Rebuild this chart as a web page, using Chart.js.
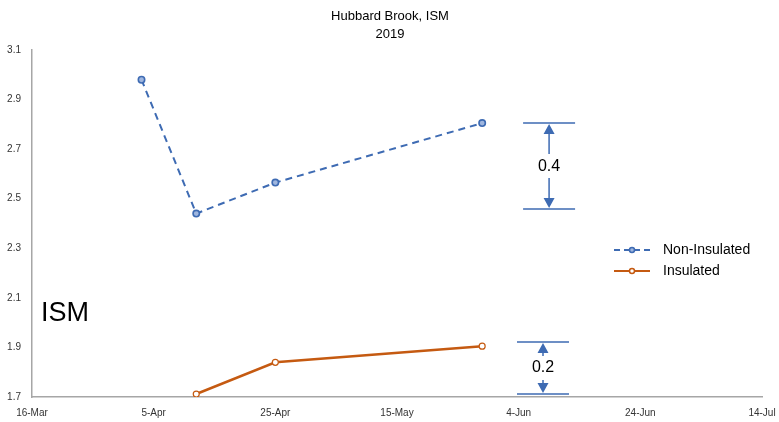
<!DOCTYPE html>
<html>
<head>
<meta charset="utf-8">
<script src="https://cdn.jsdelivr.net/npm/chart.js@4/dist/chart.umd.min.js"></script>
<style>
  html, body { margin: 0; padding: 0; background: #fff; }
  #wrap { width: 779px; height: 422px; }
</style>
</head>
<body>
<div id="wrap"><canvas id="ismChart" width="779" height="422"></canvas></div>
<script>
// sampling dates and values
const sampleDates = ['2019-04-03', '2019-04-12', '2019-04-25', '2019-05-29'];
const nonInsulated = [2.98, 2.44, 2.565, 2.805];
const insulated = [null, 1.712, 1.84, 1.905];

const seriesNames = ['Non-Insulated', 'Insulated'];
const yTicks = [1.7, 1.9, 2.1, 2.3, 2.5, 2.7, 2.9, 3.1];
const xStart = '2019-03-16';
const xEnd = '2019-07-14';

// difference brackets: [date, top value, bottom value, label]
const brackets = [
    ['2019-06-09', 2.805, 2.458, '0.4'],
    ['2019-06-08', 1.922, 1.712, '0.2']
];

const months = ['Jan','Feb','Mar','Apr','May','Jun','Jul','Aug','Sep','Oct','Nov','Dec'];
const BLUE = '#3e6bb3';
const ORANGE = '#C55A11';
const FONT = '"Liberation Sans", Arial, sans-serif';

function dayNum(s) {
    const p = s.split('-').map(Number);
    const p0 = xStart.split('-').map(Number);
    return (Date.UTC(p[0], p[1] - 1, p[2]) - Date.UTC(p0[0], p0[1] - 1, p0[2])) / 86400000;
}

function dayLabel(n) {
    const p0 = xStart.split('-').map(Number);
    const d = new Date(Date.UTC(p0[0], p0[1] - 1, p0[2]) + n * 86400000);
    return d.getUTCDate() + '-' + months[d.getUTCMonth()];
}

function toPoints(values) {
    return sampleDates.map((d, i) => ({ x: dayNum(d), y: values[i] }));
}

// title, ISM label, brackets and legend
const extras = {
    id: 'extras',
    afterDraw(chart) {
        const ctx = chart.ctx;
        const xs = chart.scales.x, ys = chart.scales.y;
        ctx.save();
        ctx.fillStyle = '#000';
        ctx.textAlign = 'center';
        ctx.textBaseline = 'middle';
        ctx.font = '13px ' + FONT;
        ctx.fillText('Hubbard Brook, ISM', 390, 16);
        ctx.fillText('2019', 390, 34);

        ctx.textAlign = 'left';
        ctx.font = '27px ' + FONT;
        ctx.fillText('ISM', 41, 314);

        brackets.forEach(b => {
            const cx = xs.getPixelForValue(dayNum(b[0]));
            const yt = ys.getPixelForValue(b[1]);
            const yb = ys.getPixelForValue(b[2]);
            const ym = (yt + yb) / 2;
            ctx.strokeStyle = BLUE;
            ctx.fillStyle = BLUE;
            ctx.lineWidth = 1.5;
            ctx.beginPath();
            ctx.moveTo(cx - 26, yt); ctx.lineTo(cx + 26, yt);
            ctx.moveTo(cx - 26, yb); ctx.lineTo(cx + 26, yb);
            ctx.moveTo(cx, yt + 9); ctx.lineTo(cx, ym - 12);
            ctx.moveTo(cx, ym + 12); ctx.lineTo(cx, yb - 9);
            ctx.stroke();
            ctx.beginPath();
            ctx.moveTo(cx, yt + 1); ctx.lineTo(cx - 5.5, yt + 11); ctx.lineTo(cx + 5.5, yt + 11); ctx.closePath();
            ctx.moveTo(cx, yb - 1); ctx.lineTo(cx - 5.5, yb - 11); ctx.lineTo(cx + 5.5, yb - 11); ctx.closePath();
            ctx.fill();
            ctx.fillStyle = '#000';
            ctx.textAlign = 'center';
            ctx.font = '16px ' + FONT;
            ctx.fillText(b[3], cx, ym);
        });

        // legend
        const items = [
            { y: 250, color: BLUE, dash: [6, 4], fill: '#9fb6df' },
            { y: 271, color: ORANGE, dash: [], fill: '#fff' }
        ];
        items.forEach((it, i) => {
            ctx.strokeStyle = it.color;
            ctx.lineWidth = 2;
            ctx.setLineDash(it.dash);
            ctx.beginPath();
            ctx.moveTo(614, it.y); ctx.lineTo(650, it.y);
            ctx.stroke();
            ctx.setLineDash([]);
            ctx.beginPath();
            ctx.arc(632, it.y, 2.5, 0, Math.PI * 2);
            ctx.fillStyle = it.fill;
            ctx.fill();
            ctx.lineWidth = 1.5;
            ctx.stroke();
            ctx.fillStyle = '#000';
            ctx.textAlign = 'left';
            ctx.font = '14px ' + FONT;
            ctx.fillText(seriesNames[i], 663, it.y);
        });
        ctx.restore();
    }
};

new Chart(document.getElementById('ismChart'), {
    type: 'line',
    data: {
        datasets: [{
            label: seriesNames[0],
            data: toPoints(nonInsulated),
            borderColor: BLUE,
            borderWidth: 2,
            borderDash: [7, 5],
            pointRadius: 3.2,
            pointBorderWidth: 1.6,
            pointBorderColor: BLUE,
            pointBackgroundColor: '#9fb6df',
            tension: 0
        }, {
            label: seriesNames[1],
            data: toPoints(insulated),
            borderColor: ORANGE,
            borderWidth: 2.5,
            pointRadius: 3,
            pointBorderWidth: 1.2,
            pointBorderColor: ORANGE,
            pointBackgroundColor: '#fff',
            tension: 0
        }]
    },
    options: {
        responsive: false,
        animation: false,
        layout: { autoPadding: false, padding: { top: 50, right: 17, left: 0, bottom: 0 } },
        plugins: {
            legend: { display: false },
            title: { display: false },
            tooltip: { enabled: false }
        },
        scales: {
            x: {
                type: 'linear',
                min: 0,
                max: dayNum(xEnd),
                afterFit(scale) { scale.height = 25; },
                afterBuildTicks(scale) {
                    const t = [];
                    for (let v = 0; v <= dayNum(xEnd); v += 20) t.push({ value: v });
                    scale.ticks = t;
                },
                grid: { display: false },
                border: { display: true, color: '#a6a6a6', width: 1.5 },
                ticks: {
                    color: '#333',
                    font: { family: FONT, size: 10 },
                    maxRotation: 0,
                    padding: 2,
                    callback: v => dayLabel(v)
                }
            },
            y: {
                min: yTicks[0],
                max: yTicks[yTicks.length - 1],
                afterFit(scale) { scale.width = 32; },
                afterBuildTicks(scale) { scale.ticks = yTicks.map(v => ({ value: v })); },
                grid: { display: false },
                border: { display: true, color: '#a6a6a6', width: 1.5 },
                ticks: {
                    color: '#333',
                    font: { family: FONT, size: 10 },
                    padding: 3,
                    callback: v => v.toFixed(1)
                }
            }
        }
    },
    plugins: [extras]
});
</script>
</body>
</html>
